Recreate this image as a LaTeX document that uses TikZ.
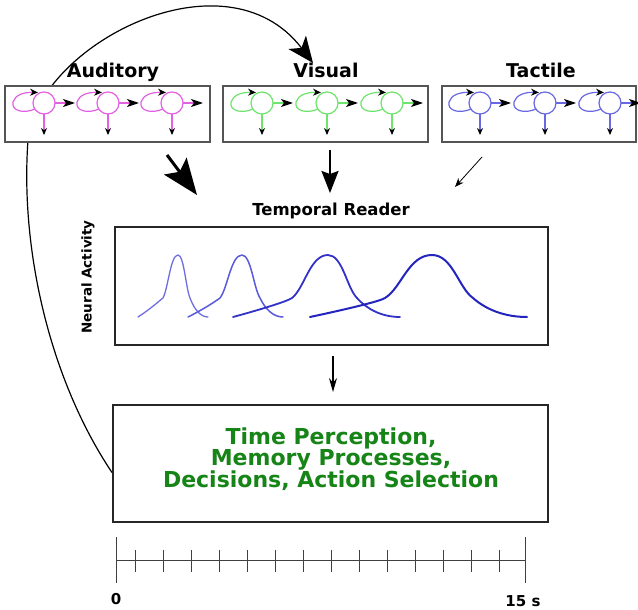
\documentclass[tikz,border=0pt]{standalone}
\usepackage{fontspec}
\setmainfont{DejaVu Sans}
\usetikzlibrary{arrows.meta}

\definecolor{audcol}{RGB}{226,96,226}
\definecolor{viscol}{RGB}{110,228,110}
\definecolor{taccol}{RGB}{104,104,226}
\definecolor{boxcol}{RGB}{85,85,85}
\definecolor{textgreen}{RGB}{22,132,22}
\definecolor{bumpA}{RGB}{110,110,226}
\definecolor{bumpB}{RGB}{90,90,220}
\definecolor{bumpC}{RGB}{50,50,200}
\definecolor{bumpD}{RGB}{36,36,190}

\tikzset{
  modbox/.style={draw=boxcol, line width=1.5pt, fill=white, rectangle, inner sep=0pt},
  mainbox/.style={draw=black!85, line width=2pt, fill=white, rectangle, inner sep=0pt},
  modlabel/.style={font=\bfseries\fontsize{19}{22}\selectfont, anchor=base},
  tick/.style={line width=0.8pt, draw=black!75},
}

% one recurrent unit: body, self loop, lateral and downward outputs
\newcommand{\unitcell}[2]{%
  \draw[#2, line width=1.2pt] (#1,103) circle (11);
  \draw[#2, line width=1.2pt, -{Stealth[black,length=8pt,width=7pt]}]
    ({#1-9},109) .. controls ({#1-20},114) and ({#1-33},111) .. ({#1-31},102)
    .. controls ({#1-29},95) and ({#1-20},92) .. ({#1-6},92.5);
  \draw[#2, line width=1.2pt, -{Stealth[black,length=12pt,width=8pt,inset=3pt]}]
    ({#1+11},103) -- ({#1+31},103);
  \draw[#2, line width=1.2pt, -{Stealth[black,length=7pt,width=6pt]}]
    (#1,114) -- (#1,135);
}

% one activity bump: left foot, shoulder, peak, fall, right foot
\newcommand{\activity}[7]{%
  \pgfmathsetmacro{\ca}{#1+(#2-#1)*0.5}
  \pgfmathsetmacro{\cb}{#2-4}
  \pgfmathsetmacro{\cc}{#2+(#3-#2)*0.35}
  \pgfmathsetmacro{\cd}{#3-(#3-#2)*0.5}
  \pgfmathsetmacro{\ce}{#3+(#4-#3)*0.5}
  \pgfmathsetmacro{\cf}{#4-(#4-#3)*0.35}
  \pgfmathsetmacro{\cg}{#4+(#5-#4)*0.25}
  \pgfmathsetmacro{\ch}{#5-(#5-#4)*0.4}
  \draw[#6, line width=#7, line cap=round, line join=round]
    (#1,317) .. controls (\ca,309) and (\cb,301) .. (#2,298)
    .. controls (\cc,288) and (\cd,255) .. (#3,255)
    .. controls (\ce,255) and (\cf,288) .. (#4,298)
    .. controls (\cg,310) and (\ch,317) .. (#5,317);
}

\begin{document}
\begin{tikzpicture}[x=1pt, y=-1pt]
\useasboundingbox (0,0) rectangle (638,610);

% feedback path from the action stage back to the visual channel
\coordinate (fbend) at (313,63);
\node[mainbox, minimum width=435pt, minimum height=117pt] (action) at (330.5,463.5) {};
\draw[line width=1.2pt, -{Stealth[length=26pt,width=22pt,inset=7pt]}]
  ([yshift=-9pt]action.west) .. controls (50,380) and (20,250) .. (28,140)
  .. controls (38,45) and (225,-52) .. (fbend);

% modality boxes
\node[modbox, minimum width=205pt, minimum height=56pt] (aud) at (107.5,114) {};
\node[modbox, minimum width=205pt, minimum height=56pt] (vis) at (325.5,114) {};
\node[modbox, minimum width=194pt, minimum height=56pt] (tac) at (539,114) {};

\node[modlabel] (audlab) at (113,78) {Auditory};
\node[modlabel] (vislab) at (326,78) {Visual};
\node[modlabel] (taclab) at (541,78) {Tactile};

\foreach \cx in {44,108,172} {\unitcell{\cx}{audcol}}
\foreach \cx in {262,327,392} {\unitcell{\cx}{viscol}}
\foreach \cx in {480,545,610} {\unitcell{\cx}{taccol}}

% convergence onto the temporal reader
\coordinate (audA) at (167,155);
\coordinate (audB) at (197,195);
\coordinate (visA) at (330,150);
\coordinate (visB) at (330,193);
\coordinate (tacA) at (482,157);
\coordinate (tacB) at (455,187);
\draw[line width=3pt, -{Stealth[length=36pt,width=28pt,inset=7pt]}] (audA) -- (audB);
\draw[line width=2pt, -{Stealth[length=22pt,width=17pt,inset=3pt]}] (visA) -- (visB);
\draw[line width=0.8pt, -{Stealth[length=9pt,width=7pt]}] (tacA) -- (tacB);

\node[font=\bfseries\fontsize{16.5}{20}\selectfont, anchor=base] (readlab) at (331,215) {Temporal Reader};
\node[mainbox, line width=2.4pt, minimum width=433pt, minimum height=118pt] (reader) at (331.5,286) {};
\node[font=\bfseries\fontsize{13.5}{15}\selectfont, rotate=90] (ylab) at (88,277) {Neural Activity};

\activity{138}{163}{178}{190}{208}{bumpA}{1.3pt}
\activity{188}{220}{242}{260}{283}{bumpB}{1.5pt}
\activity{233}{292}{328}{357}{400}{bumpC}{1.8pt}
\activity{310}{385}{432}{473}{527}{bumpD}{2pt}

% reader output feeding the action stage
\coordinate (rdA) at ([xshift=1.5pt,yshift=-10pt]reader.south);
\coordinate (rdB) at ([yshift=12pt]action.north -| rdA);
\draw[line width=1.2pt, -{Stealth[length=14pt,width=8pt]}] (rdA) -- (rdB);

\node[font=\bfseries\fontsize{22}{21.5}\selectfont, text=textgreen, align=center] (outtext) at (331,459)
  {Time Perception,\\Memory Processes,\\Decisions, Action Selection};

% time axis
\coordinate (t0) at (116,560);
\coordinate (t1) at (525,560);
\draw[tick] (t0) -- (t1);
\draw[tick] (116,537) -- (116,583);
\draw[tick] (525,537) -- (525,583);
\foreach \k in {0,...,13} {\draw[tick] ({135+28*\k},550) -- ({135+28*\k},572);}
\node[font=\bfseries\fontsize{15}{18}\selectfont, anchor=base] (zero) at (116,604) {0};
\node[font=\bfseries\fontsize{15}{18}\selectfont, anchor=base] (fifteen) at (523,606) {15 s};
\end{tikzpicture}
\end{document}
